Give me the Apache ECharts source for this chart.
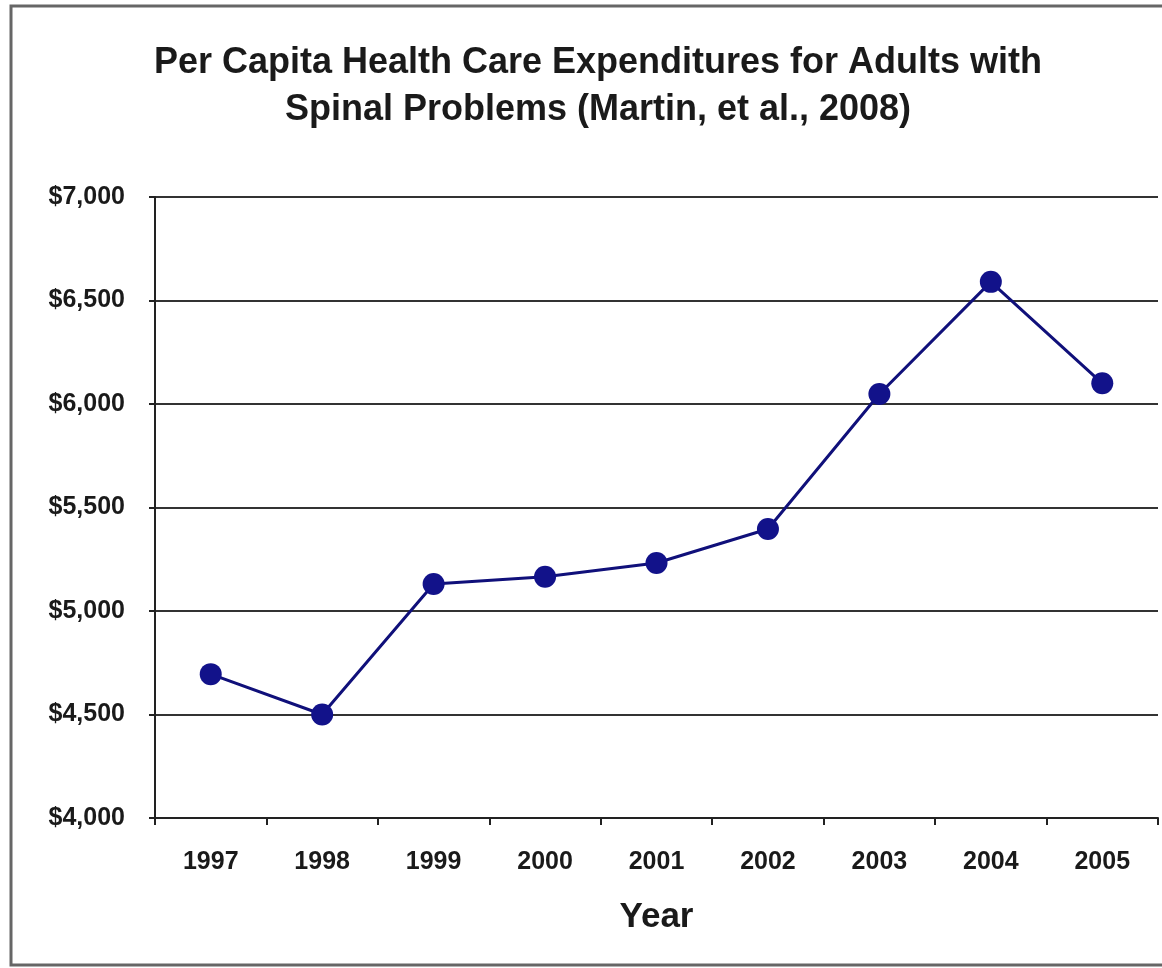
<!DOCTYPE html>
<html>
<head>
<meta charset="utf-8">
<script src="https://cdn.jsdelivr.net/npm/echarts@6/dist/echarts.min.js"></script>
<style>
  html, body { margin: 0; padding: 0; background: #fff; }
  #main { width: 1162px; height: 968px; }
</style>
</head>
<body>
<div id="main"></div>
<script>
var years = ['1997', '1998', '1999', '2000', '2001', '2002', '2003', '2004', '2005'];
var spending = [4695, 4500, 5130, 5165, 5232, 5396, 6048, 6590, 6100];
var titleLines = ['Per Capita Health Care Expenditures for Adults with', 'Spinal Problems (Martin, et al., 2008)'];

var chartDom = document.getElementById('main');
var myChart = echarts.init(chartDom);
var font = '"Liberation Sans", Arial, sans-serif';

var option = {
    backgroundColor: '#fff',
    title: {
        text: titleLines.join('\n'),
        left: 593,
        textAlign: 'center',
        top: 35,
        textStyle: {
            fontFamily: font,
            fontWeight: 'bold',
            fontSize: 36,
            lineHeight: 47,
            color: '#1a1a1a'
        }
    },
    graphic: [{
        type: 'rect',
        shape: { x: 11, y: 6, width: 1160, height: 959 },
        style: { fill: 'none', stroke: '#666', lineWidth: 3 },
        silent: true
    }],
    grid: { left: 155, right: 4, top: 197, bottom: 150 },
    xAxis: {
        type: 'category',
        data: years,
        boundaryGap: true,
        name: 'Year',
        nameLocation: 'middle',
        nameGap: 82,
        nameTextStyle: { fontFamily: font, fontWeight: 'bold', fontSize: 35, color: '#1a1a1a' },
        axisLine: { lineStyle: { color: '#222', width: 2 } },
        axisTick: { show: true, length: 7, lineStyle: { color: '#222', width: 2 } },
        axisLabel: { margin: 32, fontFamily: font, fontWeight: 'bold', fontSize: 25, color: '#1a1a1a' },
        splitLine: { show: false }
    },
    yAxis: {
        type: 'value',
        min: 4000,
        max: 7000,
        interval: 500,
        axisLine: { show: true, lineStyle: { color: '#222', width: 2 } },
        axisTick: { show: true, length: 6, lineStyle: { color: '#222', width: 2 } },
        axisLabel: {
            margin: 30,
            fontFamily: font,
            fontWeight: 'bold',
            fontSize: 25,
            color: '#1a1a1a',
            formatter: function (v) { return '$' + v.toLocaleString('en-US'); }
        },
        splitLine: { show: true, lineStyle: { color: '#333', width: 2 } }
    },
    series: [{
        name: 'Per capita expenditure',
        type: 'line',
        data: spending,
        symbol: 'circle',
        symbolSize: 22,
        itemStyle: { color: '#12128a' },
        lineStyle: { color: '#10107a', width: 3 },
        animation: false
    }]
};

myChart.setOption(option);
</script>
</body>
</html>
